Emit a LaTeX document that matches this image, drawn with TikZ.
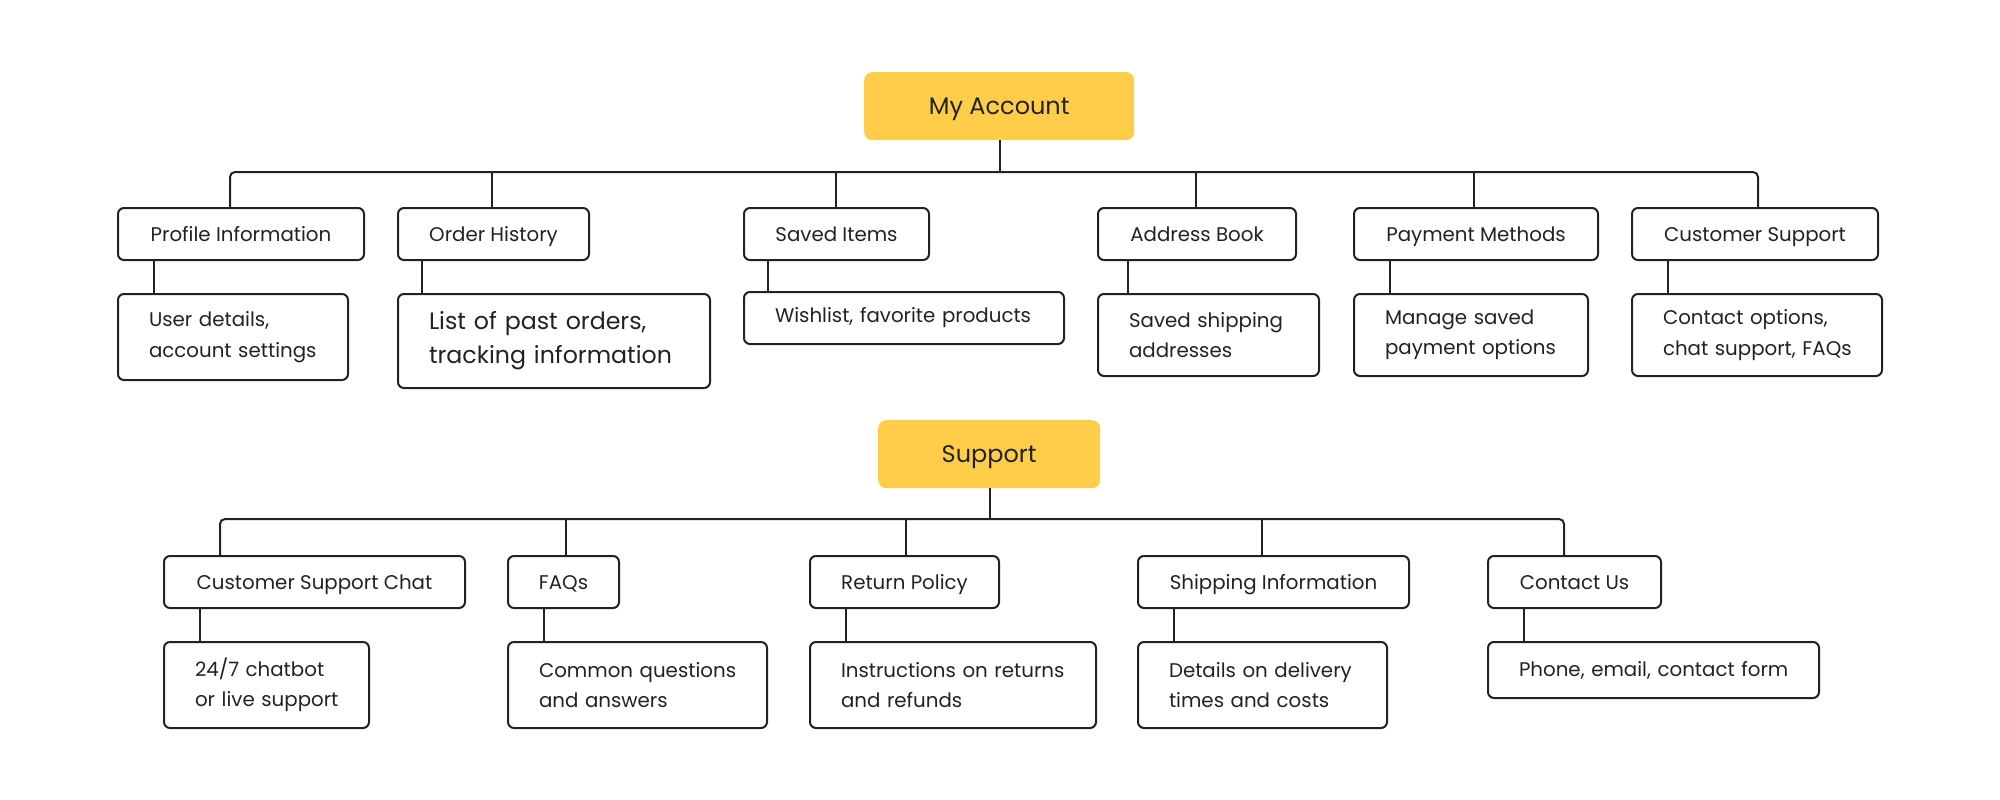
\documentclass[tikz,border=0pt]{standalone}
\usepackage{fontspec}
\setmainfont{Poppins}
\definecolor{ink}{HTML}{222222}
\definecolor{gold}{HTML}{FFCD4A}
\begin{document}
\begin{tikzpicture}[x=1pt,y=-1pt,
  rootbox/.style={fill=gold, rounded corners=8pt, inner sep=0pt, anchor=north west, text=ink, font=\fontsize{24}{28}\selectfont, text height=16.2pt, text depth=0pt},
  boxbase/.style={draw=ink, line width=2pt, rounded corners=6pt, inner sep=0pt, anchor=north west, text=ink, font=\fontsize{19.8}{30.3}\selectfont},
  cbox/.style={boxbase, minimum height=52pt, text height=15.8pt, text depth=0pt},
  lbox/.style={boxbase, inner xsep=31pt, inner ysep=0pt, align=left},
  conn/.style={draw=ink, line width=2pt},
]
\useasboundingbox (0,0) rectangle (2000,800);

% ---------- My Account ----------
\node[rootbox, minimum width=270pt, minimum height=68pt] (root) at (864,72) {My Account};

\node[cbox, minimum width=246pt] (c1) at (117,207) {Profile Information};
\node[cbox, minimum width=191pt] (c2) at (397,207) {Order History};
\node[cbox, minimum width=185pt] (c3) at (743,207) {Saved Items};
\node[cbox, minimum width=198pt] (c4) at (1097,207) {Address Book};
\node[cbox, minimum width=244pt] (c5) at (1353,207) {Payment Methods};
\node[cbox, minimum width=246pt] (c6) at (1631,207) {Customer Support};

\node[lbox, text width=168pt, minimum height=86pt] (l1) at (117,293) {\mbox{User details,}\\\mbox{account settings}};
\node[lbox, text width=250pt, minimum height=94pt, font=\fontsize{23.7}{34}\selectfont] (l2) at (397,293) {\mbox{List of past orders,}\\\mbox{tracking information}};
\node[lbox, text width=258pt, minimum height=52pt] (l3) at (743,291) {\mbox{Wishlist, favorite products}};
\node[lbox, text width=159pt, minimum height=82pt] (l4) at (1097,293) {\mbox{Saved shipping}\\\mbox{addresses}};
\node[lbox, text width=172pt, minimum height=82pt] (l5) at (1353,293) {\mbox{Manage saved}\\\mbox{payment options}};
\node[lbox, text width=188pt, minimum height=82pt] (l6) at (1631,293) {\mbox{Contact options,}\\\mbox{chat support, FAQs}};

\coordinate (a1) at (230,172);
\coordinate (a2) at (492,172);
\coordinate (a3) at (836,172);
\coordinate (a4) at (1196,172);
\coordinate (a5) at (1474,172);
\coordinate (a6) at (1758,172);

\draw[conn, rounded corners=5pt] (c1.north -| a1) |- (a6) -- (c6.north -| a6);
\draw[conn] (root.south -| 1000,0) -- (1000,172);
\foreach \i in {2,3,4,5} \draw[conn] (a\i) -- (c\i.north -| a\i);

\draw[conn] ([xshift=37pt]c1.south west) -- ([xshift=37pt]l1.north west);
\draw[conn] ([xshift=25pt]c2.south west) -- ([xshift=25pt]l2.north west);
\draw[conn] ([xshift=25pt]c3.south west) -- ([xshift=25pt]l3.north west);
\draw[conn] ([xshift=31pt]c4.south west) -- ([xshift=31pt]l4.north west);
\draw[conn] ([xshift=37pt]c5.south west) -- ([xshift=37pt]l5.north west);
\draw[conn] ([xshift=37pt]c6.south west) -- ([xshift=37pt]l6.north west);

% ---------- Support ----------
\node[rootbox, minimum width=222pt, minimum height=68pt] (sroot) at (878,420) {Support};

\node[cbox, minimum width=301pt] (d1) at (163,555) {Customer Support Chat};
\node[cbox, minimum width=111pt] (d2) at (507,555) {FAQs};
\node[cbox, minimum width=189pt] (d3) at (809,555) {Return Policy};
\node[cbox, minimum width=271pt] (d4) at (1137,555) {Shipping Information};
\node[cbox, minimum width=173pt] (d5) at (1487,555) {Contact Us};

\node[lbox, text width=143pt, minimum height=86pt] (m1) at (163,641) {\mbox{24/7 chatbot}\\\mbox{or live support}};
\node[lbox, text width=197pt, minimum height=86pt] (m2) at (507,641) {\mbox{Common questions}\\\mbox{and answers}};
\node[lbox, text width=224pt, minimum height=86pt] (m3) at (809,641) {\mbox{Instructions on returns}\\\mbox{and refunds}};
\node[lbox, text width=187pt, minimum height=86pt] (m4) at (1137,641) {\mbox{Details on delivery}\\\mbox{times and costs}};
\node[lbox, text width=269pt, minimum height=56pt] (m5) at (1487,641) {\mbox{Phone, email, contact form}};

\coordinate (b1) at (220,519);
\coordinate (b2) at (566,519);
\coordinate (b3) at (906,519);
\coordinate (b4) at (1262,519);
\coordinate (b5) at (1564,519);

\draw[conn, rounded corners=5pt] (d1.north -| b1) |- (b5) -- (d5.north -| b5);
\draw[conn] (990,0 |- sroot.south) -- (990,519);
\foreach \i in {2,3,4} \draw[conn] (b\i) -- (d\i.north -| b\i);

\foreach \i in {1,...,5} \draw[conn] ([xshift=37pt]d\i.south west) -- ([xshift=37pt]m\i.north west);
\end{tikzpicture}
\end{document}
